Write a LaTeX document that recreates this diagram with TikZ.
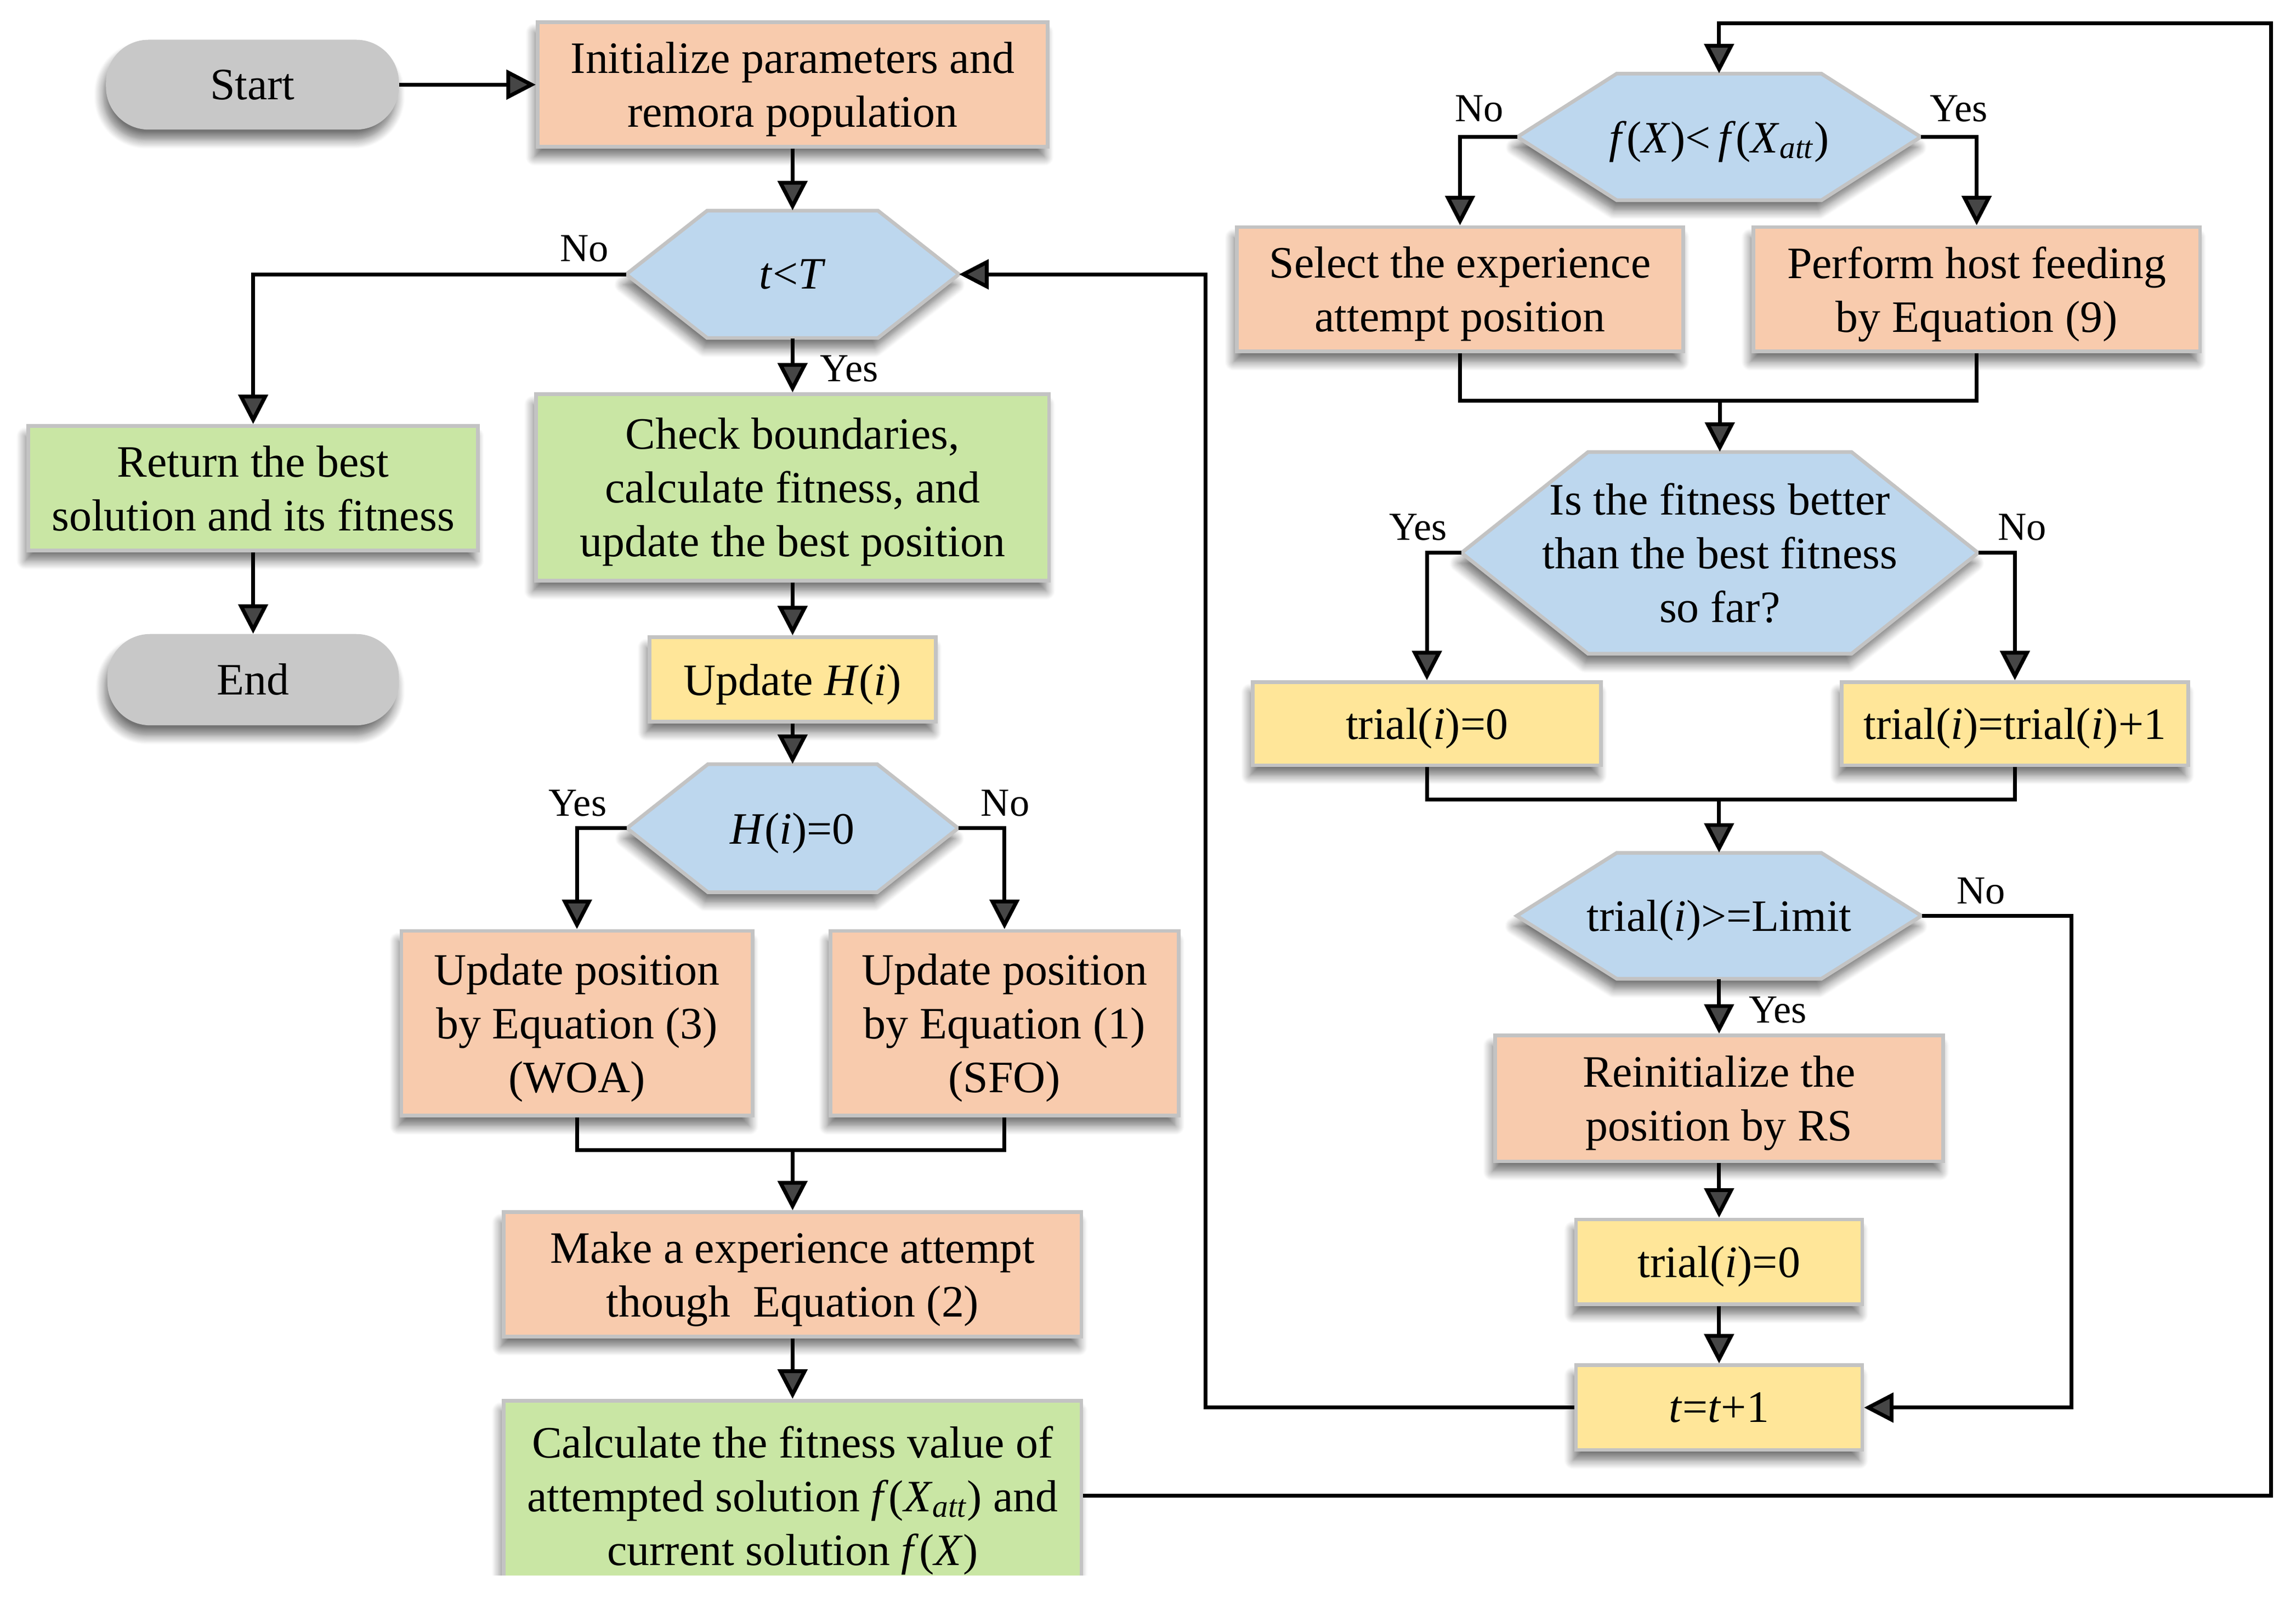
\documentclass[tikz,border=0pt]{standalone}
\usepackage{fontspec}
\setmainfont{Liberation Serif}
\usetikzlibrary{arrows.meta,shadows.blur}
\definecolor{orng}{HTML}{F8CBAD}
\definecolor{grn}{HTML}{C9E6A4}
\definecolor{ylw}{HTML}{FFE699}
\definecolor{hexblue}{HTML}{BDD7EE}
\definecolor{pillgray}{HTML}{C8C8C8}
\definecolor{bordergray}{HTML}{C3C3C3}
\newcommand{\mainfs}{\fontsize{30.5pt}{36.5pt}\selectfont}
\newcommand{\lblfs}{\fontsize{27pt}{32pt}\selectfont}
\newcommand{\hexnode}[7]{%
  \path[hexshape] ({#2-#4/2},#3) -- ({#2-#4/2+#6},{#3-#5/2}) -- ({#2+#4/2-#6},{#3-#5/2})
    -- ({#2+#4/2},#3) -- ({#2+#4/2-#6},{#3+#5/2}) -- ({#2-#4/2+#6},{#3+#5/2}) -- cycle;
  \node[hextext, minimum width={#4*1pt}, minimum height={#5*1pt}] (#1) at (#2,#3) {#7};%
}
\begin{document}
\begin{tikzpicture}[x=1pt,y=-1pt,
  shad/.style={blur shadow={shadow xshift=-2pt,shadow yshift=-7pt,shadow blur radius=6pt,shadow blur steps=10,shadow opacity=55}},
  flowbox/.style={rectangle, draw=bordergray, line width=2.5pt, inner sep=0pt, align=center, font=\mainfs, text depth=0pt, shad},
  sz/.style 2 args={minimum width={(#1-2.5)*1pt}, minimum height={(#2-2.5)*1pt}},
  obox/.style={flowbox, fill=orng},
  gbox/.style={flowbox, fill=grn},
  ybox/.style={flowbox, fill=ylw},
  pill/.style={rectangle, rounded corners=29pt, fill=pillgray, draw=none, inner sep=0pt, font=\mainfs, shad},
  hexshape/.style={fill=hexblue, draw=bordergray, line width=2.5pt, shad},
  hextext/.style={rectangle, draw=none, inner sep=0pt, align=center, font=\mainfs, text depth=0pt},
  lbl/.style={inner sep=0pt, font=\lblfs},
  conn/.style={line width=2.6pt},
  arr/.style={conn, -{Triangle[length=20pt,width=20pt]}},
]
\useasboundingbox (0,0) rectangle (1560,1085);
\clip (0,0) rectangle (1560,1070);

% left column
\node[pill, minimum width=199pt, minimum height=61pt] (start) at (171.5,57.5) {Start};
\node[obox, sz={349}{87}] (init) at (538.5,57.3) {Initialize parameters and\\remora population};
\hexnode{tT}{538.5}{186.3}{226}{86.5}{55}{\textit{t}<\textit{T}}
\node[gbox, sz={308}{87}] (ret) at (172,331.5) {Return the best\\solution and its fitness};
\node[pill, minimum width=198pt, minimum height=62pt] (end) at (172,461.6) {End};
\node[gbox, sz={351}{129}] (check) at (538.5,331) {Check boundaries,\\calculate fitness, and\\update the best position};
\node[ybox, sz={197}{60}] (updH) at (538.5,461.5) {Update \textit{H}(\textit{i})};
\hexnode{Hhex}{538.5}{562.5}{225}{87}{55}{\textit{H}(\textit{i})=0}
\node[obox, sz={241}{128}] (woa) at (392,695) {Update position\\by Equation (3)\\(WOA)};
\node[obox, sz={239}{128}] (sfo) at (682.5,695) {Update position\\by Equation (1)\\(SFO)};
\node[obox, sz={395}{87}] (make) at (538.5,865.5) {Make a experience attempt\\though\ \ Equation (2)};
\node[gbox, sz={395}{132}] (calc) at (538.5,1016) {Calculate the fitness value of\\attempted solution \textit{f}(\textit{X}\textsubscript{\textit{att}}) and\\current solution \textit{f}(\textit{X})};

% right column
\hexnode{fhex}{1168}{93}{274}{86}{67.5}{\textit{f}(\textit{X})<\,\textit{f}(\textit{X}\textsubscript{\textit{att}})}
\node[obox, sz={306}{87}] (sel) at (992,196.5) {Select the experience\\attempt position};
\node[obox, sz={306}{87}] (perf) at (1343,196.5) {Perform host feeding\\by Equation (9)};
\hexnode{fit}{1168.5}{375.5}{351}{137}{86}{Is the fitness better\\than the best fitness\\so far?}
\node[ybox, sz={239}{59}] (tr0) at (969.5,491.5) {trial(\textit{i})=0};
\node[ybox, sz={238}{59}] (trp) at (1369,491.5) {trial(\textit{i})=trial(\textit{i})+1};
\hexnode{lim}{1168}{622}{275}{85.5}{68}{trial(\textit{i})>=Limit}
\node[obox, sz={307}{88}] (reinit) at (1168,746) {Reinitialize the\\position by RS};
\node[ybox, sz={197}{60}] (trz) at (1168,857) {trial(\textit{i})=0};
\node[ybox, sz={197}{60}] (tinc) at (1168,956) {\textit{t}=\textit{t}+1};

% labels
\node[lbl] (l1) at (397,169) {No};
\node[lbl] (l2) at (577,250.5) {Yes};
\node[lbl] (l3) at (392.5,545.6) {Yes};
\node[lbl] (l4) at (683,545.6) {No};
\node[lbl] (l5) at (1005,74) {No};
\node[lbl] (l6) at (1331,74) {Yes};
\node[lbl] (l7) at (963.5,358) {Yes};
\node[lbl] (l8) at (1374,358) {No};
\node[lbl] (l9) at (1346,605) {No};
\node[lbl] (l10) at (1208,686) {Yes};

% connectors
\coordinate (m1) at (538.5,781);
\coordinate (c1) at (1543,15.8);
\coordinate (m2) at (1168.5,272);
\coordinate (m3) at (1168,543);
\coordinate (c2) at (1407.5,956);
\coordinate (c3) at (819,186.3);

\draw[arr] (start.east) -- (start.east -| init.west);
\draw[arr] (init.south) -- (tT.north);
\draw[arr] (tT.west) -| (ret.north);
\draw[arr] (tT.south) -- (check.north);
\draw[arr] (ret.south) -- (end.north);
\draw[arr] (check.south) -- (updH.north);
\draw[arr] (updH.south) -- (Hhex.north);
\draw[arr] (Hhex.west) -| (woa.north);
\draw[arr] (Hhex.east) -| (sfo.north);
\draw[conn] (woa.south) |- (m1) -| (sfo.south);
\draw[arr] (m1) -- (make.north);
\draw[arr] (make.south) -- (calc.north);
\draw[arr] (calc.east) -| (c1) -| (fhex.north);
\draw[arr] (fhex.west) -| (sel.north);
\draw[arr] (fhex.east) -| (perf.north);
\draw[conn] (sel.south) |- (m2) -| (perf.south);
\draw[arr] (m2) -- (fit.north);
\draw[arr] (fit.west) -| (tr0.north);
\draw[arr] (fit.east) -| (trp.north);
\draw[conn] (tr0.south) |- (m3) -| (trp.south);
\draw[arr] (m3) -- (lim.north);
\draw[arr] (lim.south) -- (reinit.north);
\draw[arr] (reinit.south) -- (trz.north);
\draw[arr] (trz.south) -- (tinc.north);
\draw[arr] (lim.east) -| (c2) -- (tinc.east);
\draw[arr] (tinc.west) -| (c3) -- (tT.east);
\end{tikzpicture}
\end{document}
